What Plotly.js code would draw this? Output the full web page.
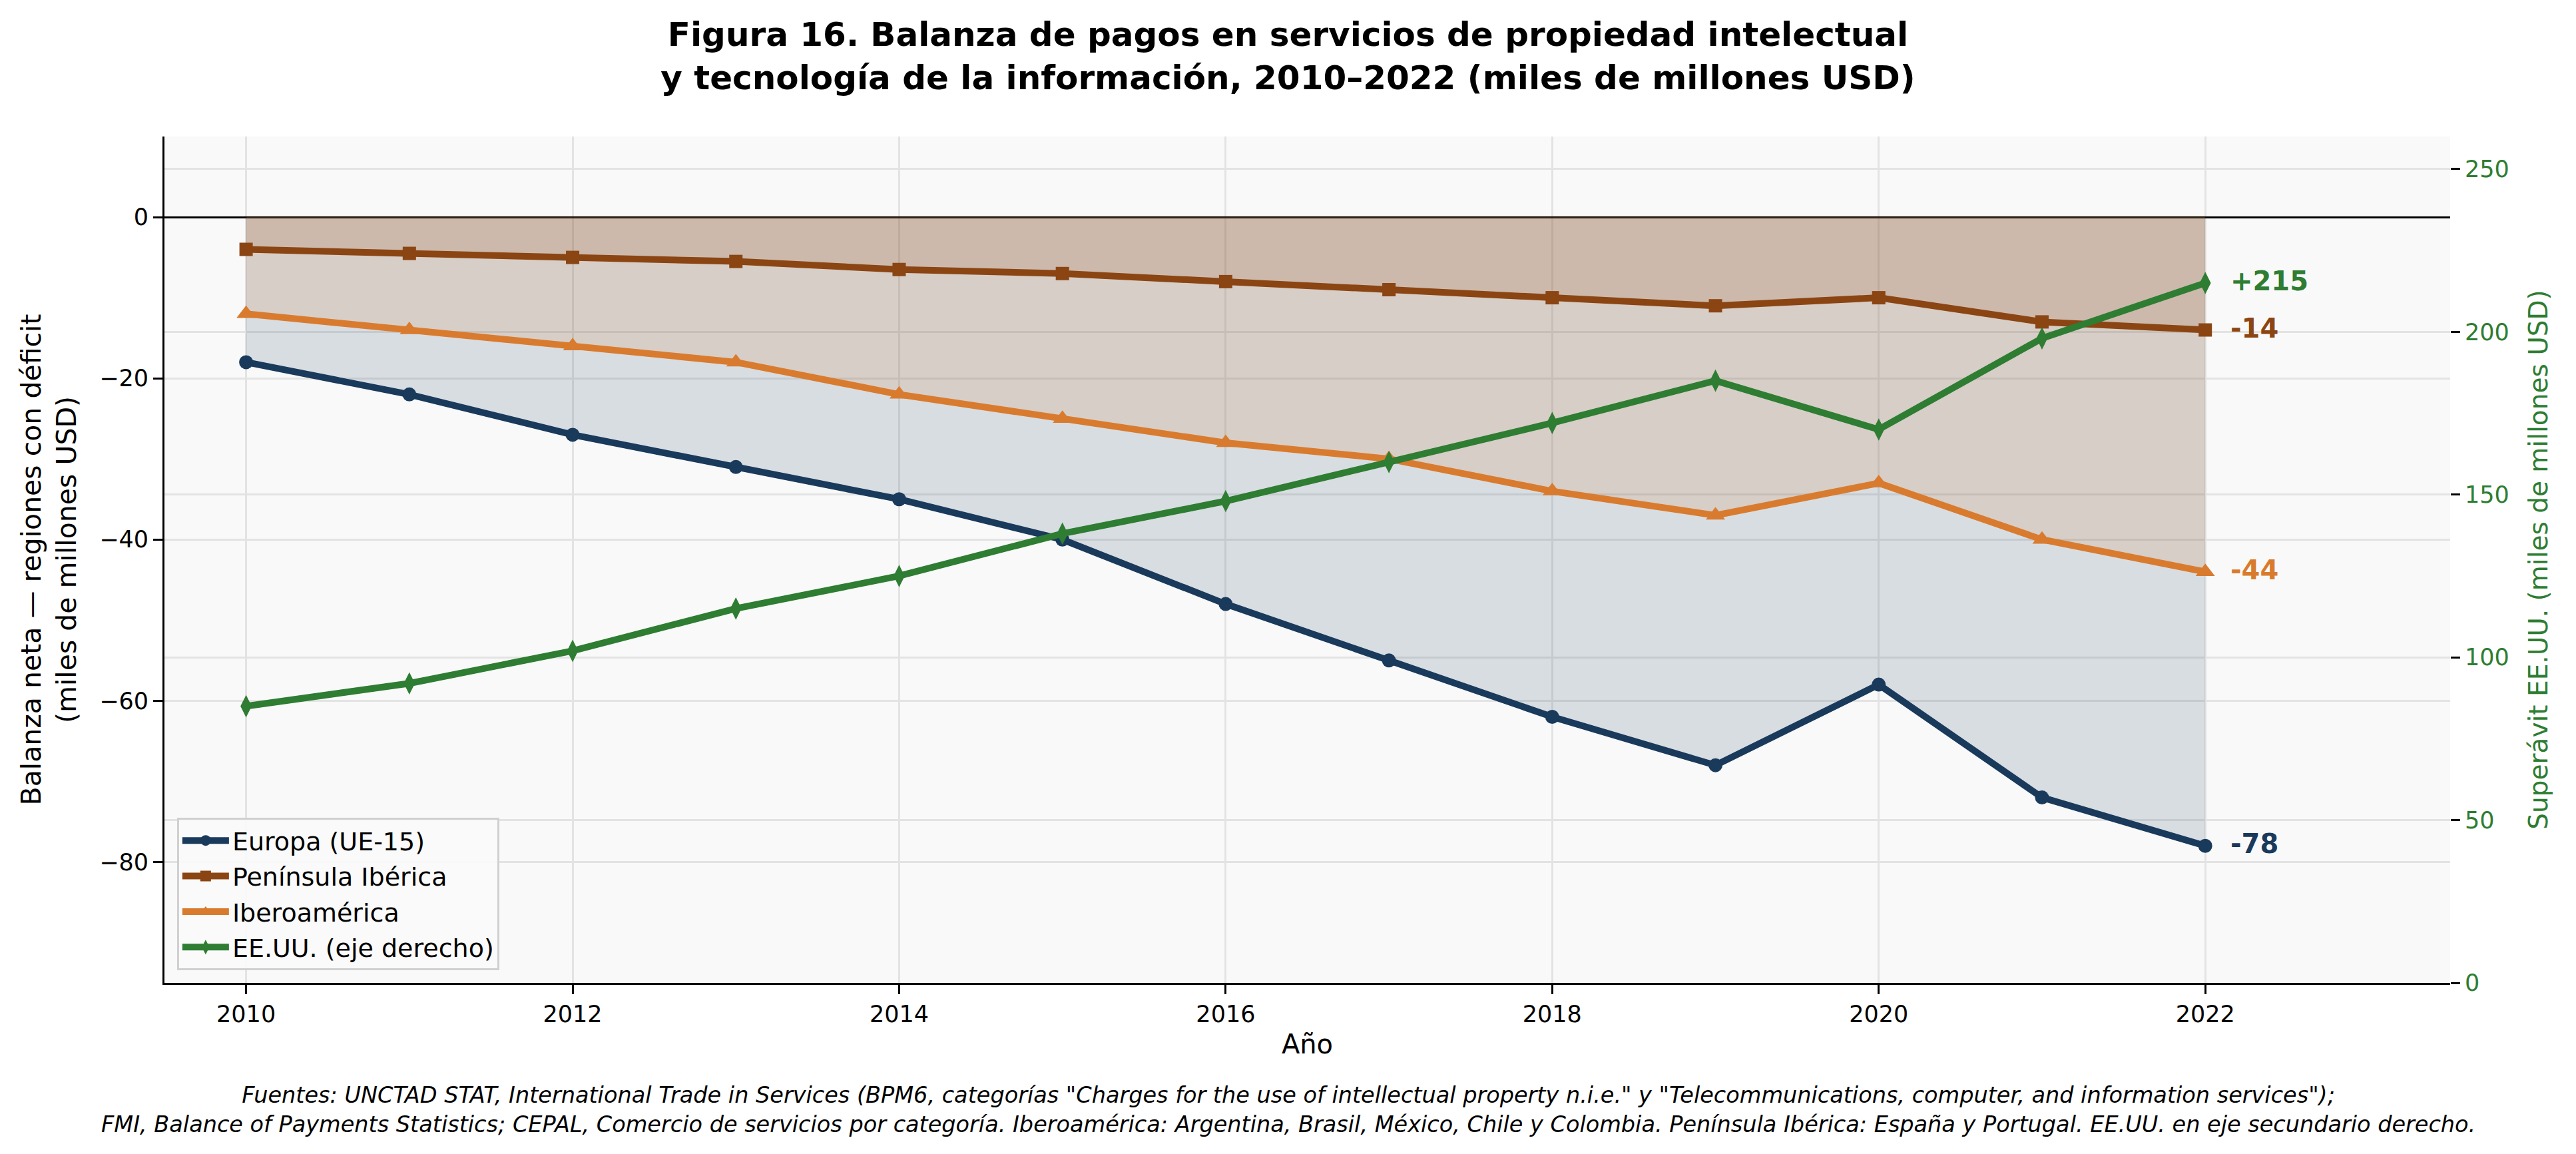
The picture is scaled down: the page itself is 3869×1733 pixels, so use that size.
<!DOCTYPE html>
<html>
<head>
<meta charset="utf-8">
<script src="https://cdn.plot.ly/plotly-3.0.1.min.js"></script>
<style>
  body { margin: 0; background: #ffffff; }
</style>
</head>
<body>
<div id="graph_body"></div>
<script>
// Data (miles de millones USD)
var years = [2010, 2011, 2012, 2013, 2014, 2015, 2016, 2017, 2018, 2019, 2020, 2021, 2022];
var europa = [-18, -22, -27, -31, -35, -40, -48, -55, -62, -68, -58, -72, -78];
var peninsula = [-4, -4.5, -5, -5.5, -6.5, -7, -8, -9, -10, -11, -10, -13, -14];
var ibero = [-12, -14, -16, -18, -22, -25, -28, -30, -34, -37, -33, -40, -44];
var eeuu = [85, 92, 102, 115, 125, 138, 148, 160, 172, 185, 170, 198, 215];

var names = ['Europa (UE-15)', 'Península Ibérica', 'Iberoamérica', 'EE.UU. (eje derecho)'];
var x_ticks = [2010, 2012, 2014, 2016, 2018, 2020, 2022];

var c_europa = '#1a3a5c';
var c_pen = '#8b4513';
var c_ibero = '#d97b2e';
var c_us = '#2e7d32';
var font_family = 'DejaVu Sans, Liberation Sans, sans-serif';

function hex_rgba(hex, a){
    var r = parseInt(hex.substr(1, 2), 16);
    var g = parseInt(hex.substr(3, 2), 16);
    var b = parseInt(hex.substr(5, 2), 16);
    return 'rgba(' + r + ',' + g + ',' + b + ',' + a + ')';
}

// shaded deficit areas, drawn first so the lines sit on top
function fill_trace(y, color){
    return {
        x: years, y: y, type: 'scatter', mode: 'lines',
        fill: 'tozeroy', fillcolor: hex_rgba(color, 0.15),
        line: {width: 0, color: color},
        showlegend: false, hoverinfo: 'skip'
    };
}

function line_trace(y, name, color, symbol, size, axis, group){
    return {
        x: years, y: y, type: 'scatter', mode: 'lines+markers',
        name: name, yaxis: axis, legendgroup: group,
        line: {color: color, width: 10},
        marker: {color: color, symbol: symbol, size: size}
    };
}

var data = [
    fill_trace(europa, c_europa),
    fill_trace(ibero, c_ibero),
    fill_trace(peninsula, c_pen),
    line_trace(europa, names[0], c_europa, 'circle', 21, 'y', 'g1'),
    line_trace(peninsula, names[1], c_pen, 'square', 20, 'y', 'g2'),
    line_trace(ibero, names[2], c_ibero, 'triangle-up', 25, 'y', 'g3'),
    line_trace(eeuu, names[3], c_us, 'diamond-tall', 24, 'y2', 'g4')
];

// end-of-series labels
var n = years.length - 1;
function end_label(val, color, yref, prefix){
    return {
        x: years[n], y: val, xref: 'x', yref: yref,
        text: prefix + val, showarrow: false,
        xanchor: 'left', yanchor: 'middle', xshift: 36, yshift: 3,
        font: {family: font_family, size: 40, color: color, weight: 'bold'}
    };
}

var source_text = 'Fuentes: UNCTAD STAT, International Trade in Services (BPM6, categorías "Charges for the use of intellectual property n.i.e." y "Telecommunications, computer, and information services");<br>' +
    'FMI, Balance of Payments Statistics; CEPAL, Comercio de servicios por categoría. Iberoamérica: Argentina, Brasil, México, Chile y Colombia. Península Ibérica: España y Portugal. EE.UU. en eje secundario derecho.';

var annotations = [
    end_label(eeuu[n], c_us, 'y2', '+'),
    end_label(peninsula[n], c_pen, 'y', ''),
    end_label(ibero[n], c_ibero, 'y', ''),
    end_label(europa[n], c_europa, 'y', ''),
    {
        x: 0.4916, y: -0.15, xref: 'paper', yref: 'paper',
        text: source_text, showarrow: false, align: 'center',
        xanchor: 'center', yanchor: 'middle',
        font: {family: font_family, size: 33.5, color: '#000000', style: 'italic'}
    }
];

var layout = {
    width: 3869, height: 1733,
    paper_bgcolor: '#ffffff', plot_bgcolor: '#f9f9f9',
    margin: {l: 247, r: 189, t: 205, b: 257},
    font: {family: font_family, size: 35, color: '#000000'},
    title: {
        text: 'Figura 16. Balanza de pagos en servicios de propiedad intelectual<br>y tecnología de la información, 2010–2022 (miles de millones USD)',
        font: {family: font_family, size: 50, weight: 'bold', color: '#000000'},
        x: 0.5, xanchor: 'center', xref: 'container',
        y: 0.96, yanchor: 'middle', yref: 'container'
    },
    xaxis: {
        range: [2009.5, 2023.5], tickvals: x_ticks,
        showline: true, linecolor: '#000000', linewidth: 3,
        ticks: 'outside', ticklen: 14, tickwidth: 3, tickcolor: '#000000',
        showgrid: true, gridcolor: '#e3e3e3', gridwidth: 2.7, zeroline: false,
        tickfont: {size: 35},
        title: {text: 'Año', font: {size: 40}, standoff: 12}
    },
    yaxis: {
        range: [-95, 10], dtick: 20,
        showline: true, linecolor: '#000000', linewidth: 3,
        ticks: 'outside', ticklen: 14, tickwidth: 3, tickcolor: '#000000',
        showgrid: true, gridcolor: '#e3e3e3', gridwidth: 2.7,
        zeroline: true, zerolinecolor: '#000000', zerolinewidth: 2.5,
        tickfont: {size: 35},
        title: {text: 'Balanza neta — regiones con déficit<br>(miles de millones USD)', font: {size: 41}, standoff: 22}
    },
    yaxis2: {
        range: [0, 260], dtick: 50, overlaying: 'y', side: 'right',
        showline: false,
        ticks: 'outside', ticklen: 14, tickwidth: 3, tickcolor: '#000000',
        showgrid: true, gridcolor: '#e3e3e3', gridwidth: 2.7, zeroline: false,
        tickfont: {size: 35, color: c_us},
        title: {text: 'Superávit EE.UU. (miles de millones USD)', font: {size: 39, color: c_us}, standoff: 30}
    },
    legend: {
        x: 0.0055, y: 0.015, xanchor: 'left', yanchor: 'bottom',
        bgcolor: 'rgba(249,249,249,0.9)', bordercolor: '#d0d0d0', borderwidth: 3,
        font: {size: 38}, traceorder: 'grouped', tracegroupgap: 1,
        itemwidth: 70
    },
    annotations: annotations,
    showlegend: true
};

var config = {responsive: false, displayModeBar: false};

Plotly.newPlot('graph_body', data, layout, config);
</script>
</body>
</html>
